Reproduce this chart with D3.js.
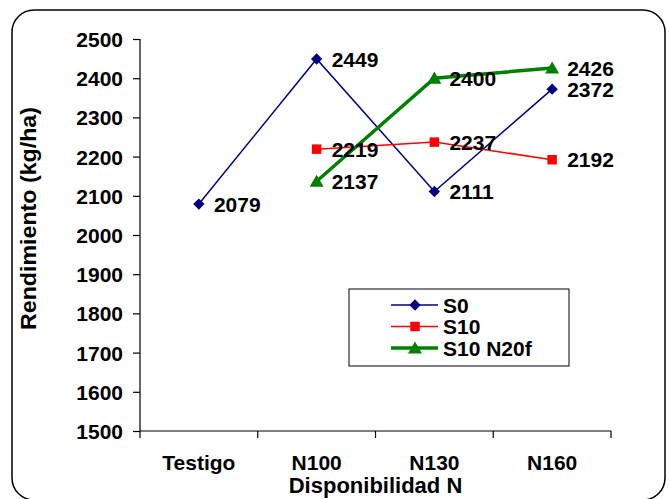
<!DOCTYPE html>
<html><head><meta charset="utf-8">
<script src="https://cdn.jsdelivr.net/npm/d3@7"></script>
<style>body{margin:0;background:#fff}svg{display:block}text{font-family:"Liberation Sans",Arial,sans-serif;font-weight:bold;fill:#000}</style>
</head><body><svg id="c" width="670" height="499"></svg>
<script>
const categories = ["Testigo", "N100", "N130", "N160"];
const seriesNames = ["S0", "S10", "S10 N20f"];
const s0 = [2079, 2449, 2111, 2372];
const s10 = [null, 2219, 2237, 2192];
const s10n20f = [null, 2137, 2400, 2426];
const yTicks = [1500, 1600, 1700, 1800, 1900, 2000, 2100, 2200, 2300, 2400, 2500];

const svg = d3.select("#c");
svg.append("rect").attr("x", 12).attr("y", 10).attr("width", 653).attr("height", 490)
  .attr("rx", 22).attr("fill", "#fff").attr("stroke", "#000").attr("stroke-width", 1.5);

const x = d3.scaleBand().domain(categories).range([140, 611]).paddingInner(0).paddingOuter(0);
const y = d3.scaleLinear().domain([1500, 2500]).range([431, 39]);
const cx = c => x(c) + x.bandwidth() / 2;

const yAxis = svg.append("g").attr("transform", "translate(140,0)")
  .call(d3.axisLeft(y).tickValues(yTicks).tickSize(7).tickPadding(10).tickFormat(d3.format("d")));
yAxis.select(".domain").attr("stroke", "#000").attr("stroke-width", 1.2).attr("d", "M0,39V431");
yAxis.selectAll(".tick line").attr("stroke", "#000").attr("stroke-width", 1.2);
yAxis.selectAll(".tick text").style("font-size", "21px").attr("dy", "0.36em");

const xAxis = svg.append("g").attr("transform", "translate(0,431)")
  .call(d3.axisBottom(x).tickSize(0).tickPadding(24));
xAxis.select(".domain").attr("stroke", "#000").attr("stroke-width", 1.2).attr("d", "M140,0H611");
xAxis.selectAll(".tick text").style("font-size", "21px");
const bounds = [140].concat(categories.map(c => x(c) + x.bandwidth()));
svg.append("g").selectAll("line").data(bounds).join("line")
  .attr("x1", d => d).attr("x2", d => d).attr("y1", 431).attr("y2", 438)
  .attr("stroke", "#000").attr("stroke-width", 1.2);

svg.append("text").attr("x", 375.5).attr("y", 493).attr("text-anchor", "middle")
  .style("font-size", "22px").text("Disponibilidad N");
svg.append("text").attr("transform", "translate(36,218.5) rotate(-90)").attr("text-anchor", "middle")
  .style("font-size", "22px").attr("textLength", 223).attr("lengthAdjust", "spacingAndGlyphs").text("Rendimiento (kg/ha)");

const seriesData = [s0, s10, s10n20f];
const colors = ["#000080", "#FF0000", "#008000"];
const widths = [1.5, 1.5, 3.5];
const shapes = [d3.symbolSquare, d3.symbolSquare, d3.symbolTriangle];
const sizes = [64, 90, 85];
const rot = [" rotate(45)", "", ""];

seriesData.forEach((vals, i) => {
  const pts = categories.map((c, j) => ({c, v: vals[j]})).filter(d => d.v != null);
  svg.append("path").datum(pts)
    .attr("d", d3.line().x(d => cx(d.c)).y(d => y(d.v)))
    .attr("fill", "none").attr("stroke", colors[i]).attr("stroke-width", widths[i]);
  svg.append("g").selectAll("path").data(pts).join("path")
    .attr("transform", d => `translate(${cx(d.c)},${y(d.v) + (i === 2 ? 1.5 : 0)})` + rot[i])
    .attr("d", d3.symbol().type(shapes[i]).size(sizes[i])).attr("fill", colors[i]);
});
seriesData.forEach((vals, i) => {
  const pts = categories.map((c, j) => ({c, v: vals[j]})).filter(d => d.v != null);
  svg.append("g").selectAll("text").data(pts).join("text")
    .attr("x", d => cx(d.c) + 15).attr("y", d => y(d.v)).attr("dy", "0.36em")
    .style("font-size", "21px").text(d => d.v);
});

const lg = svg.append("g");
lg.append("rect").attr("x", 349).attr("y", 289).attr("width", 220).attr("height", 77)
  .attr("fill", "#fff").attr("stroke", "#000").attr("stroke-width", 1);
seriesNames.forEach((n, i) => {
  const yy = 305 + i * 21.5;
  lg.append("line").attr("x1", 391).attr("x2", 438).attr("y1", yy).attr("y2", yy)
    .attr("stroke", colors[i]).attr("stroke-width", widths[i]);
  lg.append("path").attr("transform", `translate(415,${yy + (i === 2 ? 1.5 : 0)})` + rot[i])
    .attr("d", d3.symbol().type(shapes[i]).size(sizes[i])).attr("fill", colors[i]);
  lg.append("text").attr("x", 443).attr("y", yy).attr("dy", "0.36em").style("font-size", "21px").text(n);
});
</script></body></html>
